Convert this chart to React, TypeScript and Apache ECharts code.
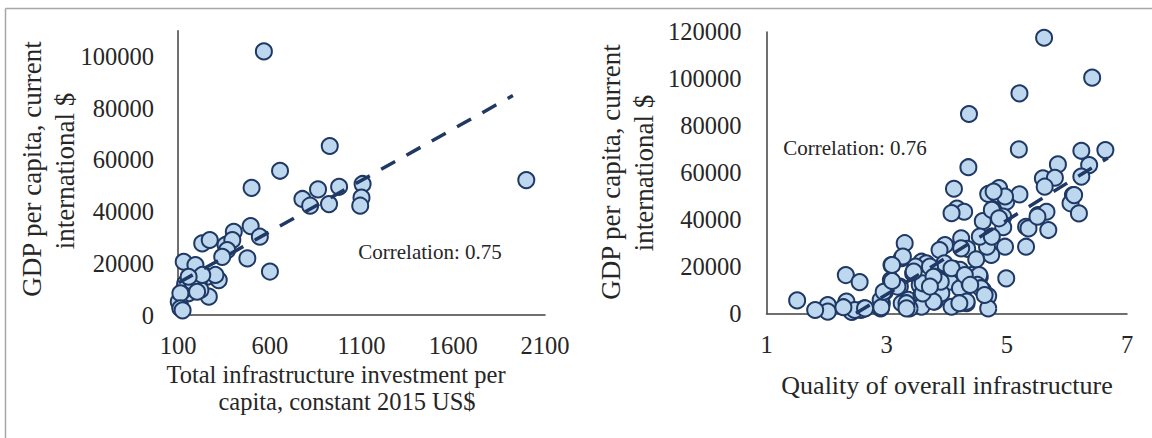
import React, { useEffect, useRef } from "react";
import * as echarts from "echarts";

// Left panel: total infrastructure investment per capita (constant 2015 US$) vs GDP per capita
const investX = [
  568, 927, 656, 501, 1998, 778, 820, 863, 923, 978, 1106, 1100, 1093,
  232, 273, 359, 404, 396, 496, 546, 368, 341, 478, 601, 131, 195, 259,
  322, 186, 140, 158, 268, 113, 104, 213, 222, 131, 140, 177, 304, 232,
  158, 113, 204, 113, 125,
];
const investGdp = [
  102000, 65400, 55800, 49200, 52200, 44900, 42300, 48600, 42900, 49600, 50700, 45400, 42300,
  27700, 29000, 27100, 32200, 29000, 34400, 30300, 25100, 22500, 21900, 16800, 20600, 19300, 14800,
  13500, 13500, 11600, 8400, 7100, 3200, 5100, 12300, 9700, 9700, 12300, 12900, 15500, 15500,
  14800, 8400, 9000, 2600, 1800,
];
// Right panel: quality of overall infrastructure vs GDP per capita
const qualityX = [
  5.62, 6.42, 5.21, 4.37, 5.2, 6.24, 6.64, 4.36, 5.85, 6.37, 4.12, 5.6, 5.8, 5.63, 6.24,
  4.87, 4.69, 4.99, 5.21, 6.1, 6.06, 4.17, 4.29, 4.77, 5.52, 5.66, 6.2, 4.97, 4.6, 4.94,
  4.94, 5.32, 5.32, 4.97, 4.74, 4.67, 4.55, 4.24, 4.34, 4.49, 3.97, 3.88, 3.99, 4.13, 3.3,
  3.25, 3.08, 3.58, 3.66, 3.44, 3.55, 3.08, 3.22, 3.88, 4.05, 4.22, 4.38, 4.55, 4.55, 4.6,
  4.69, 4.99, 2.97, 2.92, 3.25, 3.36, 3.58, 3.8, 4.08, 4.22, 4.33, 4.69, 3.58, 3.38, 3.77,
  3.91, 4.22, 4.41, 3.83, 5.36, 5.51, 5.69, 6.12, 4.78, 4.75, 4.87, 4.75, 4.54, 4.51, 4.57,
  4.63, 4.24, 4.08, 3.96, 4.08, 3.9, 4.3, 4.39, 4.33, 4.21, 3.78, 3.6, 3.6, 3.48, 3.45,
  3.72, 3.78, 3.72, 3.33, 3.33, 3.18, 3.07, 3.27, 2.9, 2.9, 2.63, 2.57, 2.42, 2.33, 2.32,
  2.55, 2.02, 2.02, 1.81, 1.51, 2.47, 2.28, 2.64, 2.91, 2.95, 3.09, 3.09,
];
const qualityGdp = [
  117500, 100500, 93800, 85000, 69900, 69300, 69600, 62300, 63500, 63200, 53100, 57600, 57800, 54000, 58300,
  53400, 50900, 47600, 50700, 50400, 46900, 44700, 43300, 44300, 41900, 43300, 42600, 49800, 39300, 41200,
  36700, 36900, 28400, 28400, 24900, 28400, 32700, 32000, 27500, 23000, 29100, 27000, 19900, 18800, 29900,
  23500, 20600, 22000, 21300, 17100, 12100, 13500, 11400, 14200, 13500, 10700, 12800, 15600, 11400, 9900,
  7400, 14900, 9200, 4300, 4300, 5700, 7800, 5000, 2800, 4300, 4300, 2100, 2800, 2100, 9200,
  8500, 18500, 16300, 14900, 36200, 41200, 35500, 50400, 51900, 44100, 40500, 32700, 16300, 12100, 10700,
  7800, 27700, 42700, 21300, 19200, 13500, 16300, 12100, 5000, 4300, 5000, 8500, 12800, 19900, 17800,
  19900, 15600, 11400, 4300, 2100, 11400, 14200, 24200, 5700, 2100, 2100, 1400, 600, 5000, 16300,
  13300, 3500, 700, 1400, 5500, 1400, 2600, 2100, 2600, 9200, 13800, 20600,
];
// Trend line end points
const investTrendX = [104, 1925];
const investTrendY = [12500, 84900];
const qualityTrendX = [2.49, 6.68];
const qualityTrendY = [0, 66200];

const investTicks = [100, 600, 1100, 1600, 2100];
const investGdpTicks = [0, 20000, 40000, 60000, 80000, 100000];
const qualityTicks = [1, 3, 5, 7];

const FONT = "'Liberation Serif', 'Times New Roman', serif";
const TXT = "#262626";
const AXIS = "#404040";
const NAVY = "#1f3864";

const zip = (xs: number[], ys: number[]) => xs.map((x, i) => [x, ys[i]]);
const plain = (v: number) => String(v);

export default function App() {
  const ref = useRef<HTMLDivElement>(null);
  useEffect(() => {
    document.body.style.margin = "0";
    if (!ref.current) return;
    const chart = echarts.init(ref.current, undefined, { renderer: "svg" });
    const axisCommon = {
      axisLine: { show: true, onZero: false, lineStyle: { color: AXIS, width: 1.5 } },
      axisTick: { show: false },
      splitLine: { show: false },
    };
    const labelStyle = { fontFamily: FONT, fontSize: 24.5, color: TXT, formatter: plain, lineHeight: 22 };
    const scatterStyle = {
      type: "scatter",
      symbol: "circle",
      symbolSize: 16,
      itemStyle: { color: "#bdd7ee", borderColor: NAVY, borderWidth: 2, opacity: 1 },
      z: 2,
    };
    const trendStyle = {
      type: "line",
      symbol: "none",
      silent: true,
      lineStyle: { color: NAVY, width: 3.5, type: [16, 13], cap: "butt" },
      z: 3,
    };
    const rotText = (text: string, x: number, y: number, size: number) => ({
      type: "text",
      x,
      y,
      rotation: Math.PI / 2,
      style: { text, fontFamily: FONT, fontSize: size, fill: TXT, align: "center", verticalAlign: "middle", lineHeight: 26 },
    });
    const flatText = (text: string, x: number, y: number, size: number) => ({
      type: "text",
      x,
      y,
      style: { text, fontFamily: FONT, fontSize: size, fill: TXT, align: "center", verticalAlign: "middle", lineHeight: size - 3 },
    });
    chart.setOption({
      animation: false,
      backgroundColor: "#ffffff",
      textStyle: { fontFamily: FONT },
      grid: [
        { left: 178, top: 30.7, width: 367, height: 284.3 },
        { left: 766.5, top: 31.9, width: 360.5, height: 281.4 },
      ],
      xAxis: [
        {
          type: "value", gridIndex: 0, min: 100, max: 2100, ...axisCommon,
          axisLabel: { ...labelStyle, margin: 19, customValues: investTicks },
        },
        {
          type: "value", gridIndex: 1, min: 1, max: 7, ...axisCommon,
          axisLabel: { ...labelStyle, margin: 20, customValues: qualityTicks },
        },
      ],
      yAxis: [
        {
          type: "value", gridIndex: 0, min: 0, max: 110000, ...axisCommon,
          axisLabel: { ...labelStyle, margin: 24, customValues: investGdpTicks },
        },
        {
          type: "value", gridIndex: 1, min: 0, max: 120000, interval: 20000, ...axisCommon,
          axisLabel: { ...labelStyle, margin: 25 },
        },
      ],
      series: [
        { ...scatterStyle, xAxisIndex: 0, yAxisIndex: 0, data: zip(investX, investGdp) },
        { ...trendStyle, xAxisIndex: 0, yAxisIndex: 0, data: zip(investTrendX, investTrendY) },
        { ...scatterStyle, xAxisIndex: 1, yAxisIndex: 1, data: zip(qualityX, qualityGdp) },
        { ...trendStyle, xAxisIndex: 1, yAxisIndex: 1, data: zip(qualityTrendX, qualityTrendY) },
      ],
      graphic: [
        { type: "line", shape: { x1: 5.5, y1: 8.5, x2: 1152, y2: 8.5 }, style: { stroke: "#a6a6a6", lineWidth: 1.5 } },
        { type: "line", shape: { x1: 5.5, y1: 8.5, x2: 5.5, y2: 438 }, style: { stroke: "#a6a6a6", lineWidth: 1.5 } },
        rotText("GDP per capita, current", 32, 169, 27),
        rotText("international $", 65, 171, 27),
        rotText("GDP per capita, current", 611, 172, 27),
        rotText("international $", 644, 173, 27),
        flatText("Total infrastructure investment per", 336, 374, 24.5),
        flatText("capita, constant 2015 US$", 347, 401, 24.5),
        flatText("Quality of overall infrastructure", 947, 385, 26),
        flatText("Correlation: 0.75", 430, 252, 21),
        flatText("Correlation: 0.76", 855, 148, 21),
      ],
    });
    return () => chart.dispose();
  }, []);
  return <div ref={ref} style={{ width: 1152, height: 438 }} />;
}
